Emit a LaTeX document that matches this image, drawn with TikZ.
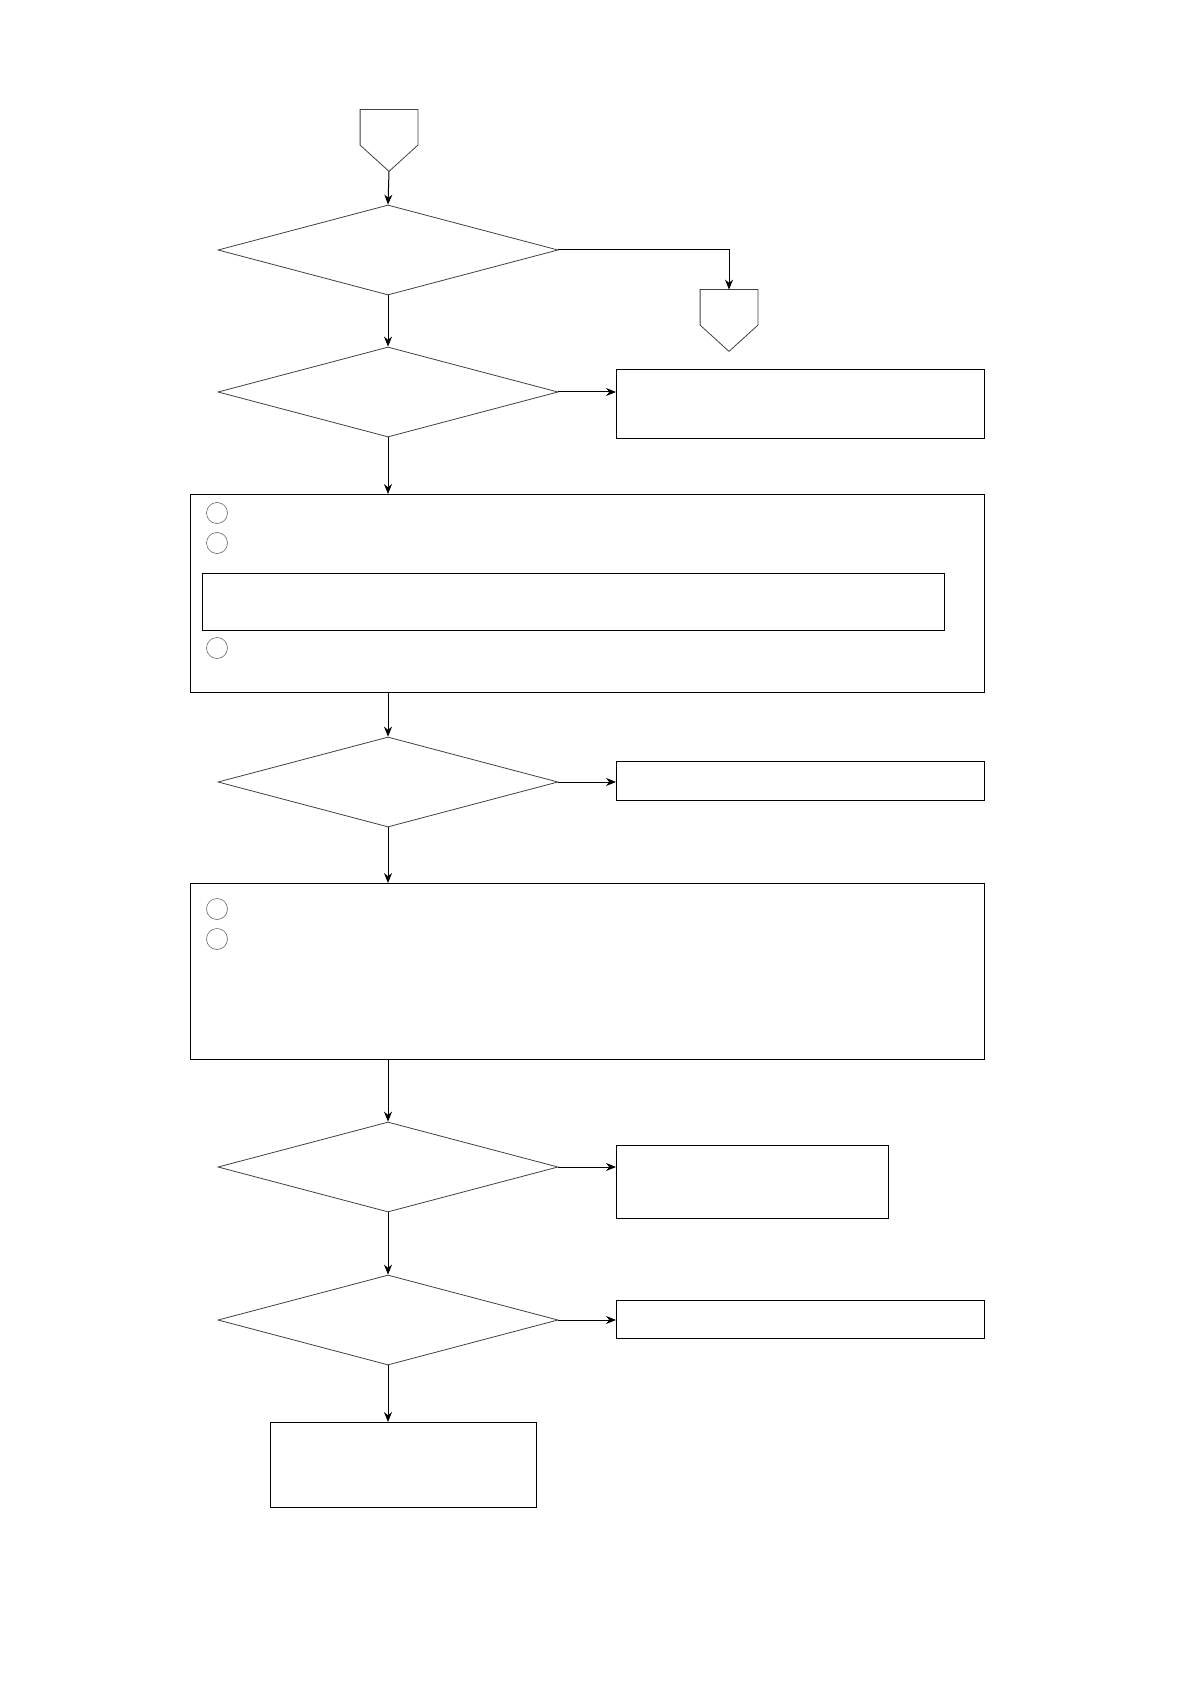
\documentclass[tikz,border=0pt]{standalone}
\usetikzlibrary{arrows.meta,positioning,calc,shapes.geometric}
\tikzset{
  decision/.style={diamond, draw=black!75, line width=0.4pt, inner sep=0pt,
    minimum width=170pt, minimum height=45pt},
  stepbox/.style={draw=black, line width=0.6pt, inner sep=0pt, anchor=north west},
  conn/.style={inner sep=0pt, minimum width=28.5pt, minimum height=30.5pt},
  thinline/.style={draw=black!75, line width=0.4pt},
  bullet/.style={circle, draw=black!60, line width=0.3pt, minimum size=10.5pt, inner sep=0pt},
  edge/.style={-{Stealth[length=5pt,width=4pt]}, line width=0.5pt},
}
% off-page connector: pentagon pointing down
\newcommand{\offpage}[2]{%
  \node[conn] (#1) at (#2) {};
  \draw[thinline] (#1.north west) -- (#1.north east) -- ++(0,35.5)
    -- (#1.south) -- ($(#1.north west)+(0,35.5)$) -- cycle;}
\newcommand{\rbox}[4]{\node[stepbox, minimum width=#3, minimum height=#4] (#1) at (#2) {};}

\begin{document}
\begin{tikzpicture}[x=0.5pt, y=-0.5pt]
  \useasboundingbox (0,0) rectangle (1190,1684);

  \offpage{op1}{389,140.5}
  \offpage{op2}{729,320.5}

  \node[decision] (d1) at (388,250) {};
  \node[decision] (d2) at (388,392) {};
  \node[decision] (d3) at (388,782) {};
  \node[decision] (d4) at (388,1167) {};
  \node[decision] (d5) at (388,1320) {};

  \rbox{r2}{616,369}{184pt}{34.5pt}
  \rbox{b1}{190,494}{397pt}{99pt}
  \rbox{b1in}{202,573}{371pt}{28.5pt}
  \rbox{r3}{616,761}{184pt}{19.5pt}
  \rbox{b2}{190,883}{397pt}{88pt}
  \rbox{r4}{616,1145}{136pt}{36.5pt}
  \rbox{r5}{616,1300}{184pt}{19pt}
  \rbox{fin}{270,1422}{133pt}{42.5pt}

  \node[bullet] (c1) at (217,513) {};
  \node[bullet] (c2) at (217,543) {};
  \node[bullet] (c3) at (217,648) {};
  \node[bullet] (c4) at (217,909) {};
  \node[bullet] (c5) at (217,939) {};

  \draw[edge] (op1.south) -- (d1.north);
  \draw[edge] (d1.east) -| (op2.north);
  \draw[edge] (d1.south) -- (d2.north);
  \draw[edge] (d2.east) -- (d2.east -| r2.west);
  \draw[edge] (d2.south) -- (d2.south |- b1.north);
  \draw[edge] (d2.south |- b1.south) -- (d3.north);
  \draw[edge] (d3.east) -- (d3.east -| r3.west);
  \draw[edge] (d3.south) -- (d3.south |- b2.north);
  \draw[edge] (d3.south |- b2.south) -- (d4.north);
  \draw[edge] (d4.east) -- (d4.east -| r4.west);
  \draw[edge] (d4.south) -- (d5.north);
  \draw[edge] (d5.east) -- (d5.east -| r5.west);
  \draw[edge] (d5.south) -- (d5.south |- fin.north);

\end{tikzpicture}
\end{document}
